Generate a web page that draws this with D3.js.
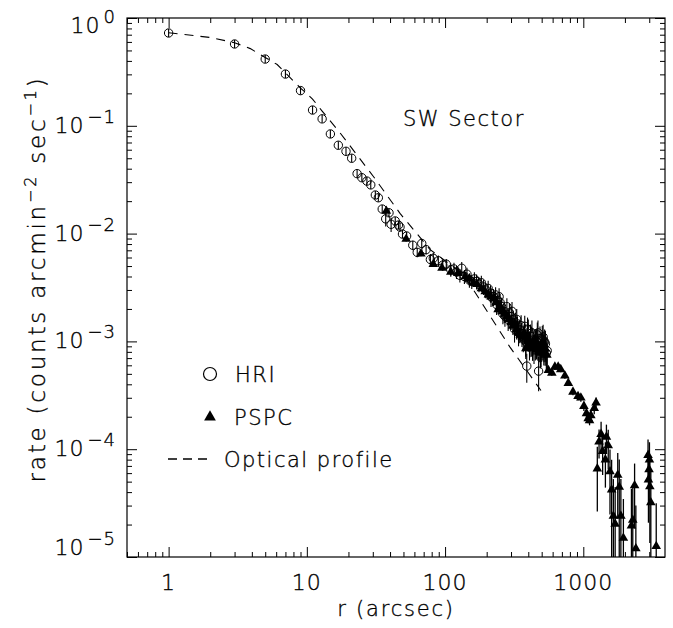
<!DOCTYPE html>
<html>
<head>
<meta charset="utf-8">
<script src="https://cdn.jsdelivr.net/npm/d3@7"></script>
<style>
  html, body { margin: 0; padding: 0; background: #fff; }
  svg text { font-family: "DejaVu Sans", "Liberation Sans", sans-serif; fill: #000; stroke: #000; stroke-width: 0.35; font-weight: 300; }
</style>
</head>
<body>
<svg id="chart" width="673" height="628"></svg>
<script>
// ---------------- DATA ----------------
const hriR = [1, 3, 5, 7, 9, 11, 12.9, 14.8, 16.9, 19.2, 21.1, 23.1, 25, 27.2, 29, 31.3, 32.9, 35.1, 37.2, 39.3,
  40.7, 43.6, 46, 47.2, 49.2, 52.7, 58.4, 62.9, 67.8, 72.9, 78.3, 82.2, 89.4, 96.3, 102, 110, 116, 121, 128, 132,
  138, 144, 150, 156, 163, 169, 176, 183, 190, 197, 205, 213, 224, 232, 241, 250, 256, 262, 271, 280,
  292, 301, 311, 322, 334, 347, 360, 377, 390, 400, 415, 433, 450, 465, 475, 486, 500, 512, 525, 540,
  215, 236, 246, 268, 286, 305, 318, 330, 340, 355, 368, 383, 395, 408, 425, 440, 458, 470, 495, 505, 518, 532, 548];
const hriRate = [0.726, 0.574, 0.416, 0.302, 0.212, 0.140, 0.116, 0.084, 0.066, 0.058, 0.050, 0.036, 0.033, 0.0307, 0.0283,
  0.0228, 0.0215, 0.0169, 0.0137, 0.0156, 0.0122, 0.0131, 0.0120, 0.0115, 0.0099, 0.0095, 0.0078, 0.0067, 0.0081, 0.0071,
  0.00576, 0.0059, 0.0056, 0.0051, 0.0052, 0.00463, 0.0047, 0.00441, 0.0041, 0.00477, 0.0040, 0.0042, 0.0037, 0.0036, 0.0038,
  0.0036, 0.0034, 0.0035, 0.0032, 0.0030, 0.0031, 0.0028, 0.00259, 0.0027, 0.0024, 0.0023, 0.00211, 0.0018, 0.00171, 0.0021,
  0.00184, 0.0017, 0.00158, 0.0015, 0.0014, 0.00128, 0.00118, 0.00138, 0.00059, 0.00128, 0.00112, 0.00103, 0.00095, 0.00115, 0.00053,
  0.00106, 0.00092, 0.0011, 0.00099, 0.00078,
  0.0026, 0.0022, 0.0026, 0.0019, 0.0016, 0.0019, 0.0013, 0.0016, 0.0012, 0.0014, 0.0011, 0.0010, 0.0013, 0.00095, 0.0012,
  0.00088, 0.0010, 0.0012, 0.00085, 0.00105, 0.00088, 0.00095, 0.00082];
const hriRelErr = [0.03, 0.03, 0.03, 0.03, 0.03, 0.04, 0.04, 0.04, 0.04, 0.04, 0.05, 0.05, 0.05, 0.05, 0.05,
  0.06, 0.06, 0.07, 0.15, 0.07, 0.15, 0.08, 0.08, 0.08, 0.08, 0.09, 0.1, 0.1, 0.1, 0.1,
  0.12, 0.12, 0.12, 0.12, 0.12, 0.14, 0.14, 0.14, 0.14, 0.14, 0.15, 0.15, 0.15, 0.15, 0.15,
  0.16, 0.16, 0.16, 0.16, 0.16, 0.18, 0.18, 0.18, 0.18, 0.18, 0.2, 0.2, 0.2, 0.2, 0.2,
  0.22, 0.22, 0.22, 0.22, 0.22, 0.25, 0.25, 0.25, 0.3, 0.25, 0.28, 0.28, 0.3, 0.3, 0.35,
  0.3, 0.3, 0.3, 0.3, 0.3,
  0.2, 0.2, 0.2, 0.22, 0.22, 0.22, 0.25, 0.25, 0.25, 0.25, 0.28, 0.28, 0.28, 0.3, 0.3,
  0.3, 0.3, 0.3, 0.32, 0.32, 0.32, 0.32, 0.32];

const pspcR = [37.6, 52.3, 66.9, 82.2, 95, 110, 124, 140, 160, 183, 206, 225, 242, 262, 280,
  300, 320, 340, 350, 365, 384, 400, 420, 440, 460, 480, 500, 520, 559, 592,
  623, 658, 687, 736, 779, 842, 916, 960, 1010, 1054, 1085, 1110, 1134, 1200, 1237,
  1263, 1300, 1345, 1380, 1445, 1470, 1515, 1560, 1603, 1650, 1700, 1775, 1820, 1870, 1950,
  2230, 2280, 2350, 2400, 2940, 2960, 2990, 3010, 3030, 3080, 3370,
  150, 170, 195, 215, 235, 252, 270, 290, 310, 330, 375, 392, 410, 430, 450, 470, 490, 510, 530, 545];
const pspcRate = [0.0162, 0.0089, 0.0065, 0.0052, 0.0048, 0.0044, 0.0043, 0.0040, 0.0035, 0.0031, 0.00271, 0.0025, 0.00198, 0.0019, 0.0017,
  0.0015, 0.00145, 0.0012, 0.00115, 0.0011, 0.00086, 0.0010, 0.0009, 0.00095, 0.00085, 0.0008, 0.00088, 0.0008, 0.00054, 0.00051,
  0.00058, 0.00058, 0.00055, 0.00048, 0.00041, 0.00034, 0.00031, 0.00030, 0.000251, 0.000215, 0.000193, 0.000185, 0.000206, 0.00024, 0.00027,
  0.000066, 0.000117, 0.000138, 0.000096, 0.000080, 0.000130, 0.000108, 0.000062, 0.000042, 0.000024, 0.0000203, 0.0000577, 0.0000446, 0.000024, 0.000015,
  0.0000195, 0.000022, 0.000046, 0.000012, 0.000088, 0.000052, 0.000065, 0.00008, 0.000045, 0.000032, 0.0000126,
  0.0038, 0.0034, 0.0029, 0.0026, 0.0023, 0.0021, 0.0018, 0.0016, 0.0014, 0.0013, 0.0012, 0.0011, 0.00095, 0.00088, 0.0010,
  0.00092, 0.00078, 0.00095, 0.00085, 0.00075];
const pspcRelErr = [0.05, 0.05, 0.05, 0.05, 0.05, 0.07, 0.07, 0.07, 0.07, 0.07, 0.1, 0.1, 0.1, 0.1, 0.1,
  0.15, 0.15, 0.15, 0.15, 0.15, 0.2, 0.2, 0.2, 0.2, 0.2, 0.2, 0.2, 0.2, 0.06, 0.06,
  0.06, 0.06, 0.06, 0.06, 0.06, 0.07, 0.08, 0.08, 0.1, 0.1, 0.1, 0.1, 0.1, 0.12, 0.12,
  0.6, 0.3, 0.3, 0.4, 0.45, 0.3, 0.4, 0.6, 0.9, 1.2, 1.2, 0.6, 0.8, 1.2, 1.3,
  1.2, 1.1, 0.6, 1.5, 0.4, 0.6, 0.5, 0.45, 0.7, 1.0, 1.5,
  0.1, 0.1, 0.12, 0.12, 0.15, 0.15, 0.15, 0.18, 0.18, 0.2, 0.22, 0.22, 0.25, 0.25, 0.25,
  0.28, 0.28, 0.3, 0.3, 0.3];

const optR = [1, 2, 3, 3.9, 6.1, 9, 11, 12.9, 17.4, 30.4, 47.2, 78, 118, 151, 294, 494];
const optRate = [0.73, 0.66, 0.59, 0.52, 0.37, 0.224, 0.177, 0.137, 0.086, 0.0337, 0.0154, 0.0071, 0.0048, 0.0034, 0.00089, 0.00035];

const xMajorTicks = [1, 10, 100, 1000];
const xTickLabels = ["1", "10", "100", "1000"];
const yMajorTicks = [1, 1e-1, 1e-2, 1e-3, 1e-4, 1e-5];
const yTickExponents = ["0", "\u22121", "\u22122", "\u22123", "\u22124", "\u22125"];

const titleText = "SW Sector";
const legendLabels = ["HRI", "PSPC", "Optical profile"];

// ---------------- LAYOUT ----------------
const L = 127, R = 665, T = 18, B = 557;
const svg = d3.select("#chart");
const x = d3.scaleLog().domain([0.5, 3900]).range([L, R]);
const y = d3.scaleLog().domain([1e-5, 1]).range([B, T]);

svg.append("defs").append("clipPath").attr("id", "clip")
  .append("rect").attr("x", L).attr("y", T).attr("width", R - L).attr("height", B - T);

const plot = svg.append("g").attr("clip-path", "url(#clip)");

function minorTicks(scale) {
  const [a, b] = scale.domain().slice().sort((p, q) => p - q);
  const out = [];
  for (let e = Math.floor(Math.log10(a)); e <= Math.ceil(Math.log10(b)); e++) {
    for (let k = 2; k <= 9; k++) {
      const v = k * Math.pow(10, e);
      if (v >= a && v <= b) out.push(v);
    }
  }
  return out;
}

const axG = svg.append("g");
function drawAxis(gen, transform) {
  const g = axG.append("g").attr("transform", transform).call(gen);
  g.selectAll("text").remove();
  g.select(".domain").remove();
  g.selectAll("line").attr("stroke", "#000").attr("stroke-width", 1);
  return g;
}
const MJ = 10, MN = 5;
drawAxis(d3.axisBottom(x).tickValues(xMajorTicks).tickSizeInner(-MJ).tickSizeOuter(0), `translate(0,${B})`);
drawAxis(d3.axisBottom(x).tickValues(minorTicks(x)).tickSizeInner(-MN).tickSizeOuter(0), `translate(0,${B})`);
drawAxis(d3.axisTop(x).tickValues(xMajorTicks).tickSizeInner(-MJ).tickSizeOuter(0), `translate(0,${T})`);
drawAxis(d3.axisTop(x).tickValues(minorTicks(x)).tickSizeInner(-MN).tickSizeOuter(0), `translate(0,${T})`);
drawAxis(d3.axisLeft(y).tickValues(yMajorTicks).tickSizeInner(-MJ).tickSizeOuter(0), `translate(${L},0)`);
drawAxis(d3.axisLeft(y).tickValues(minorTicks(y)).tickSizeInner(-MN).tickSizeOuter(0), `translate(${L},0)`);
drawAxis(d3.axisRight(y).tickValues(yMajorTicks).tickSizeInner(-MJ).tickSizeOuter(0), `translate(${R},0)`);
drawAxis(d3.axisRight(y).tickValues(minorTicks(y)).tickSizeInner(-MN).tickSizeOuter(0), `translate(${R},0)`);

svg.append("rect").attr("x", L).attr("y", T).attr("width", R - L).attr("height", B - T)
  .attr("fill", "none").attr("stroke", "#000").attr("stroke-width", 1.2);

// x tick labels
svg.append("g").selectAll("text").data(xMajorTicks).join("text")
  .attr("x", d => x(d)).attr("y", 590).attr("text-anchor", "middle")
  .attr("font-size", 22).attr("letter-spacing", 1)
  .text((d, i) => xTickLabels[i]);

// y tick labels
const yl = svg.append("g").selectAll("text").data(yMajorTicks).join("text")
  .attr("x", 116)
  .attr("y", d => Math.min(Math.max(y(d), T + 8), B - 9) + 7)
  .attr("text-anchor", "end").attr("font-size", 22).attr("letter-spacing", 1);
yl.append("tspan").text("10");
yl.append("tspan").attr("dx", 3).attr("dy", -10).attr("font-size", 18).text((d, i) => yTickExponents[i]);

// axis titles
svg.append("text").attr("x", 396).attr("y", 616).attr("text-anchor", "middle")
  .attr("font-size", 21).attr("letter-spacing", 1.8).text("r (arcsec)");
const yt = svg.append("text").attr("transform", "translate(45,279) rotate(-90)")
  .attr("text-anchor", "middle").attr("font-size", 23).attr("letter-spacing", 2.8);
yt.append("tspan").text("rate (counts arcmin");
yt.append("tspan").attr("dy", -9).attr("font-size", 16).text("\u22122");
yt.append("tspan").attr("dy", 9).text(" sec");
yt.append("tspan").attr("dy", -9).attr("font-size", 16).text("\u22121");
yt.append("tspan").attr("dy", 9).text(")");

svg.append("text").attr("x", 403).attr("y", 126).attr("font-size", 21).attr("letter-spacing", 1.5).text(titleText);

// ---------------- DATA MARKS ----------------
const hri = hriR.map((r, i) => ({ r, v: hriRate[i], e: hriRelErr[i] * hriRate[i] }));
const pspc = pspcR.map((r, i) => ({ r, v: pspcRate[i], e: pspcRelErr[i] * pspcRate[i] }));
const opt = optR.map((r, i) => ({ r, v: optRate[i] }));

const yClamp = v => (v <= 1e-6 ? B + 20 : y(v));

plot.append("path").datum(opt)
  .attr("d", d3.line().x(d => x(d.r)).y(d => y(d.v)))
  .attr("fill", "none").attr("stroke", "#000").attr("stroke-width", 1.1)
  .attr("stroke-dasharray", "9,7");

plot.append("g").selectAll("line").data(pspc).join("line")
  .attr("x1", d => x(d.r)).attr("x2", d => x(d.r))
  .attr("y1", d => yClamp(d.v - d.e)).attr("y2", d => y(d.v + d.e))
  .attr("stroke", "#000").attr("stroke-width", 1.3);
plot.append("g").selectAll("path").data(pspc).join("path")
  .attr("transform", d => `translate(${x(d.r)},${y(d.v)})`)
  .attr("d", d3.symbol(d3.symbolTriangle, 40)())
  .attr("fill", "#000");

plot.append("g").selectAll("line").data(hri).join("line")
  .attr("x1", d => x(d.r)).attr("x2", d => x(d.r))
  .attr("y1", d => Math.max(yClamp(d.v - d.e), y(d.v) + 4)).attr("y2", d => Math.min(y(d.v + d.e), y(d.v) - 4))
  .attr("stroke", "#000").attr("stroke-width", 1.1);
plot.append("g").selectAll("circle").data(hri).join("circle")
  .attr("cx", d => x(d.r)).attr("cy", d => y(d.v)).attr("r", 4.2)
  .attr("fill", "none").attr("stroke", "#000").attr("stroke-width", 1);

// ---------------- LEGEND ----------------
const lg = svg.append("g");
lg.append("circle").attr("cx", 210).attr("cy", 374).attr("r", 6.5)
  .attr("fill", "none").attr("stroke", "#000").attr("stroke-width", 1.2);
lg.append("text").attr("x", 235).attr("y", 382).attr("font-size", 21).attr("letter-spacing", 1.5).text(legendLabels[0]);
lg.append("path").attr("transform", "translate(210,417)")
  .attr("d", d3.symbol(d3.symbolTriangle, 60)()).attr("fill", "#000");
lg.append("text").attr("x", 234).attr("y", 425).attr("font-size", 21).attr("letter-spacing", 1.5).text(legendLabels[1]);
lg.append("line").attr("x1", 168).attr("x2", 209).attr("y1", 459).attr("y2", 459)
  .attr("stroke", "#000").attr("stroke-width", 1.6).attr("stroke-dasharray", "9,6");
lg.append("text").attr("x", 224).attr("y", 467).attr("font-size", 21).attr("letter-spacing", 1.5).text(legendLabels[2]);
</script>
</body>
</html>
